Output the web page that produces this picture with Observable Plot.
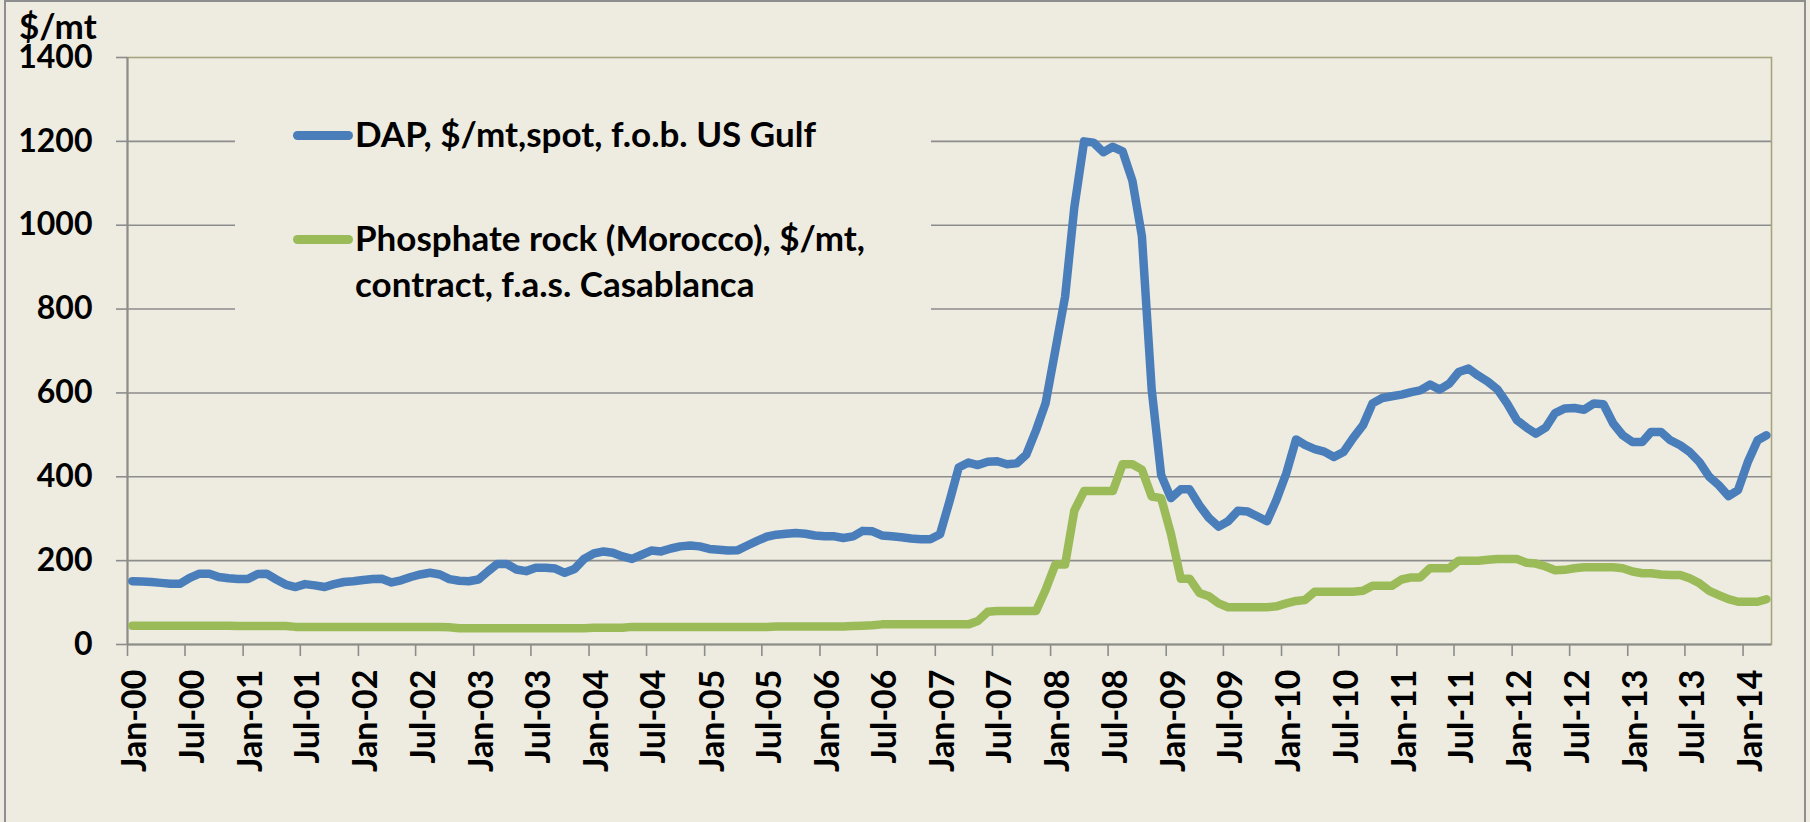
<!DOCTYPE html>
<html>
<head>
<meta charset="utf-8">
<script src="https://cdn.jsdelivr.net/npm/d3@7"></script>
<script src="https://cdn.jsdelivr.net/npm/@observablehq/plot@0.6"></script>
<style>
html,body{margin:0;padding:0;background:#EEECE1;}
#wrap{position:relative;width:1810px;height:822px;overflow:hidden;background:#EEECE1;font-family:Lato,"Open Sans",sans-serif;font-weight:700;color:#000;}
#border{position:absolute;left:4px;top:0;width:1802px;height:860px;border:2px solid #8E8E8E;box-sizing:border-box;}
#chart{position:absolute;left:0;top:0;}
.lbl{position:absolute;font-size:35px;line-height:46px;white-space:nowrap;}
#legend{position:absolute;left:235px;top:80px;width:696px;height:280px;background:#EEECE1;}
.swatch{position:absolute;left:58px;width:60px;height:9px;border-radius:4.5px;}
</style>
</head>
<body>
<div id="wrap">
  <div id="border"></div>
  <div id="chart"></div>
  <div class="lbl" id="ylabel" style="left:19px;top:13.5px;line-height:22px;"></div>
  <div id="legend">
    <div class="swatch" id="sw0" style="top:50.5px;"></div>
    <div class="lbl" id="lg0" style="left:120px;top:29.5px;"></div>
    <div class="swatch" id="sw1" style="top:154.5px;"></div>
    <div class="lbl" id="lg1" style="left:120px;top:133.5px;"></div>
  </div>
</div>
<script>
// ---- data (monthly, Jan 2000 – Mar 2014) ----
const startYear = 2000;
const seriesNames = ["DAP, $/mt,spot, f.o.b. US Gulf", "Phosphate rock (Morocco), $/mt,|contract, f.a.s. Casablanca"];
const seriesColors = ["#4A7EBB", "#9BBB59"];
const yLabel = "$/mt";
const yTicks = [0, 200, 400, 600, 800, 1000, 1200, 1400];

const dap = [
  151,150,149,147,145,145,159,169,169,161,158,156,
  156,168,169,155,143,137,144,141,137,144,149,151,
  154,156,157,148,153,161,167,171,167,156,152,151,
  155,175,192,192,179,175,183,183,181,171,180,204,
  217,222,219,210,204,214,224,222,229,234,236,234,
  228,226,224,225,236,247,257,262,264,266,264,260,
  258,258,254,258,271,270,260,258,256,253,251,251,
  263,344,422,434,428,436,437,430,432,453,511,575,
  702,830,1042,1200,1197,1174,1187,1176,1106,974,608,404,
  349,370,370,332,302,281,294,319,317,306,294,345,
  408,489,476,466,460,447,459,493,523,575,588,592,
  596,602,606,620,608,622,650,658,641,627,608,575,
  535,517,503,517,552,563,564,560,575,573,527,499,
  483,483,507,507,487,475,459,435,400,380,354,368,
  435,487,499
];
const rock = [
  45,45,45,45,45,45,45,45,45,45,45,44,
  44,44,44,44,44,42,42,42,42,42,42,42,
  42,42,42,42,42,42,42,42,42,41,39,39,
  39,39,39,39,39,39,39,39,39,39,39,39,
  40,40,40,40,42,42,42,42,42,42,42,42,
  42,42,42,42,42,42,42,43,43,43,43,43,
  43,43,43,44,45,46,48,48,48,48,48,48,
  48,48,48,48,56,78,80,80,80,80,80,130,
  191,191,319,366,366,366,366,430,430,417,353,349,
  264,157,157,123,115,98,89,89,89,89,89,91,
  98,104,106,126,126,126,126,126,128,140,140,140,
  155,160,160,182,182,182,200,200,200,202,204,204,
  204,195,193,186,177,178,182,184,184,184,184,182,
  174,170,170,167,166,166,158,146,128,118,108,102,
  102,102,108
];

// monthly dates (each value plotted at mid-month, as on an Excel date axis)
const months = d3.range(dap.length).map(i => new Date(Date.UTC(startYear, i, 16)));
const xStart = new Date(Date.UTC(startYear, 0, 1));
const xEnd = new Date(Date.UTC(startYear, dap.length, 1));
const xTicks = d3.utcMonths(xStart, new Date(Date.UTC(2014, 0, 2)), 6);

const gridC = "#8C8C8C";
const chart = Plot.plot({
  width: 1810,
  height: 822,
  marginLeft: 127,
  marginRight: 39,
  marginTop: 57,
  marginBottom: 178,
  x: {type: "utc", domain: [xStart, xEnd]},
  y: {domain: [0, 1400]},
  style: {background: "transparent", fontFamily: "Lato, 'Open Sans', sans-serif", fontSize: "32px", fontWeight: "bold", color: "#000", overflow: "visible"},
  marks: [
    Plot.gridY(yTicks.filter(d => d > 0 && d < 1400), {stroke: gridC, strokeOpacity: 1, strokeWidth: 1.6}),
    Plot.frame({stroke: "#A8A47E", strokeWidth: 1.6}),
    Plot.axisY(yTicks, {tickSize: 11, tickPadding: 24, stroke: gridC, strokeWidth: 1.6, tickFormat: d => String(d), label: null}),
    // x tick marks
    Plot.axisX(xTicks, {tickSize: 12, stroke: gridC, strokeWidth: 1.6, fill: "none", label: null}),
    // x tick labels (rotated)
    Plot.axisX(xTicks, {tickSize: 12, tickPadding: 13, tickRotate: -90, stroke: "none", fill: "#000", fontSize: 34, dx: 8, tickFormat: d3.utcFormat("%b-%y"), label: null}),
    Plot.ruleY([0], {stroke: gridC, strokeWidth: 2}),
    Plot.ruleX([xStart], {stroke: gridC, strokeWidth: 2}),
    Plot.lineY(dap, {x: months, stroke: seriesColors[0], strokeWidth: 8.5, strokeLinejoin: "round", strokeLinecap: "round", clip: true}),
    Plot.lineY(rock, {x: months, stroke: seriesColors[1], strokeWidth: 8.5, strokeLinejoin: "round", strokeLinecap: "round", clip: true})
  ]
});
document.getElementById("chart").appendChild(chart);

document.getElementById("ylabel").textContent = yLabel;
document.getElementById("sw0").style.background = seriesColors[0];
document.getElementById("sw1").style.background = seriesColors[1];
document.getElementById("lg0").textContent = seriesNames[0];
const lg1 = document.getElementById("lg1");
seriesNames[1].split("|").forEach((t, i) => {
  if (i) lg1.appendChild(document.createElement("br"));
  lg1.appendChild(document.createTextNode(t));
});
</script>
</body>
</html>
